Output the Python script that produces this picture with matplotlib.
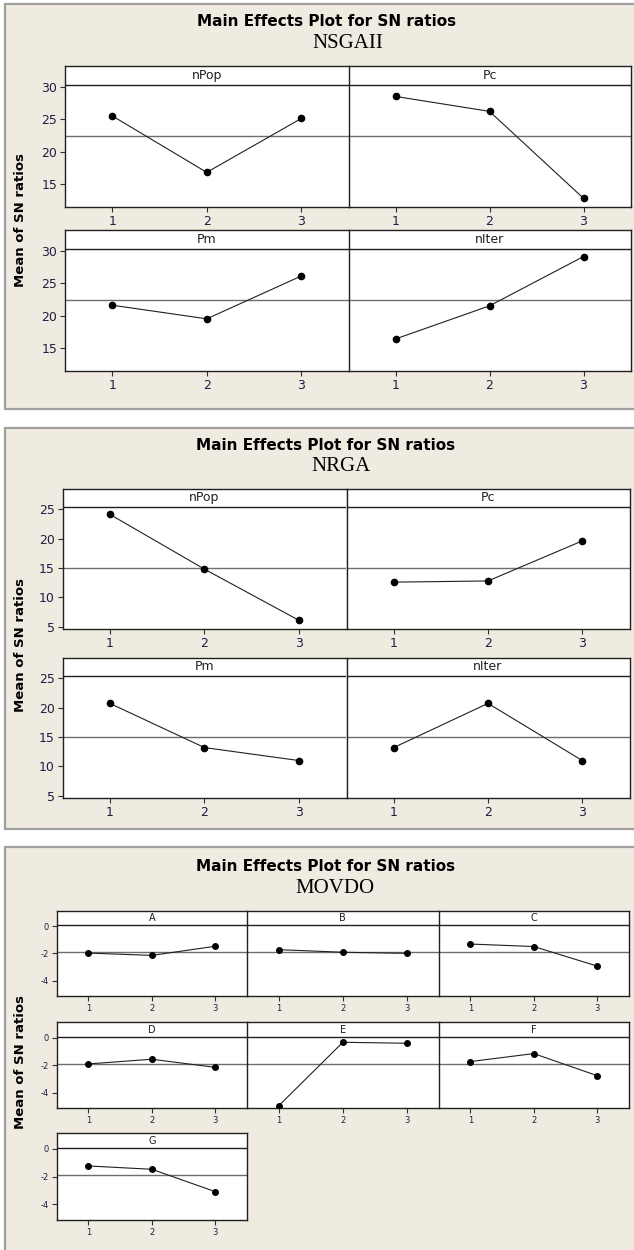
import matplotlib
matplotlib.use("Agg")
import matplotlib.pyplot as plt
from matplotlib.patches import Rectangle

W, H = 634, 1250

levels = [1, 2, 3]

# NSGAII
nsga_factors = ["nPop", "Pc", "Pm", "nIter"]
nsga_npop = [25.5, 16.8, 25.1]
nsga_pc = [28.5, 26.2, 12.8]
nsga_pm = [21.6, 19.5, 26.1]
nsga_niter = [16.4, 21.5, 29.1]

# NRGA
nrga_factors = ["nPop", "Pc", "Pm", "nIter"]
nrga_npop = [24.1, 14.8, 6.1]
nrga_pc = [12.6, 12.8, 19.6]
nrga_pm = [20.7, 13.2, 11.0]
nrga_niter = [13.2, 20.7, 11.0]

# MOVDO
movdo_factors = ["A", "B", "C", "D", "E", "F", "G"]
movdo_a = [-1.98, -2.15, -1.48]
movdo_b = [-1.73, -1.92, -2.00]
movdo_c = [-1.32, -1.50, -2.93]
movdo_d = [-1.90, -1.56, -2.15]
movdo_e = [-4.92, -0.33, -0.40]
movdo_f = [-1.73, -1.15, -2.75]
movdo_g = [-1.23, -1.47, -3.08]

BEIGE = "#efebe1"
TICKC = "#1e1e46"

fig = plt.figure(figsize=(W / 100, H / 100), dpi=100)
fig.patch.set_facecolor("white")


def px_axes(x0, y0, x1, y1):
    ax = fig.add_axes([x0 / W, 1 - y1 / H, (x1 - x0) / W, (y1 - y0) / H])
    ax.set_zorder(5)
    return ax


def frame(y0, y1):
    fig.patches.append(Rectangle((5 / W, 1 - y1 / H), 640 / W, (y1 - y0) / H,
                                 transform=fig.transFigure, facecolor=BEIGE,
                                 edgecolor="#a0a0a0", lw=1.6, zorder=-5))


def group(names, series, cols, rows, ylim, strip, yticks, fs_tick, fs_strip, ms):
    allv = [v for s in series for v in s]
    center = sum(allv) / len(allv)
    ncol = len(cols) - 1
    ylo, yhi = ylim
    strip_mid = ((strip - ylo) / (yhi - ylo) + 1) / 2
    for i, (name, vals) in enumerate(zip(names, series)):
        r, c = divmod(i, ncol)
        ax = px_axes(cols[c], rows[r][0], cols[c + 1], rows[r][1])
        ax.set_facecolor("white")
        ax.set_xlim(0.5, 3.5)
        ax.set_ylim(ylo, yhi)
        ax.axhline(center, color="#6e6e6e", lw=1.0, zorder=1)
        ax.axhline(strip, color="#202020", lw=1.0, zorder=1)
        ax.plot(levels, vals, color="#202020", lw=0.8, marker="o",
                ms=ms, mfc="black", mec="black", zorder=3)
        ax.text(0.5, strip_mid, name, transform=ax.transAxes, ha="center",
                va="center", fontsize=fs_strip, color="#202020")
        ax.set_xticks(levels)
        ax.set_xticklabels([str(v) for v in levels])
        if c == 0:
            ax.set_yticks(yticks)
            ax.set_yticklabels([str(t) for t in yticks])
        else:
            ax.set_yticks([])
        ax.tick_params(direction="out", length=3.5, width=0.8, color="#303030",
                       labelcolor=TICKC, labelsize=fs_tick, pad=2)
        for sp in ax.spines.values():
            sp.set_color("#202020")
            sp.set_linewidth(1.0)
        # neighbour draws the shared divider
        if c < ncol - 1 and i + 1 < len(names):
            ax.spines["right"].set_visible(False)


def titles(y_title, x_title, sub, x_sub, y_sub, y_lab):
    fig.text(x_title / W, 1 - y_title / H, "Main Effects Plot for SN ratios",
             ha="center", va="center", fontsize=11, fontweight="bold",
             family="DejaVu Sans")
    fig.text(x_sub / W, 1 - y_sub / H, sub, ha="center", va="center",
             fontsize=15, family="Liberation Serif")
    fig.text(21 / W, 1 - y_lab / H, "Mean of SN ratios", rotation=90,
             ha="center", va="center", fontsize=9.5, fontweight="bold")


# panel 1: NSGAII
frame(4, 409)
titles(21.7, 327, "NSGAII", 348, 43, 220)
group(nsga_factors, [nsga_npop, nsga_pc, nsga_pm, nsga_niter],
      [65, 348.5, 630.5], [(66, 207), (230, 371)],
      (11.46, 33.19), 30.26, [15, 20, 25, 30], 9, 9, 4.5)

# panel 2: NRGA
frame(428, 829)
titles(445, 326, "NRGA", 341, 466.7, 645)
group(nrga_factors, [nrga_npop, nrga_pc, nrga_pm, nrga_niter],
      [62.5, 346.5, 629.5], [(489, 629), (658, 798)],
      (4.65, 28.4), 25.35, [5, 10, 15, 20, 25], 9, 9, 4.5)

# panel 3: MOVDO
frame(847, 1262)
titles(866.7, 326, "MOVDO", 334.5, 888.3, 1062)
group(movdo_factors, [movdo_a, movdo_b, movdo_c, movdo_d, movdo_e, movdo_f, movdo_g],
      [56.7, 247, 438.7, 628.8],
      [(910.7, 996), (1022.3, 1108.3), (1133.3, 1220)],
      (-5.12, 1.12), 0.07, [-4, -2, 0], 6, 7, 4)

fig.savefig("out.png", dpi=100, facecolor=fig.get_facecolor())
